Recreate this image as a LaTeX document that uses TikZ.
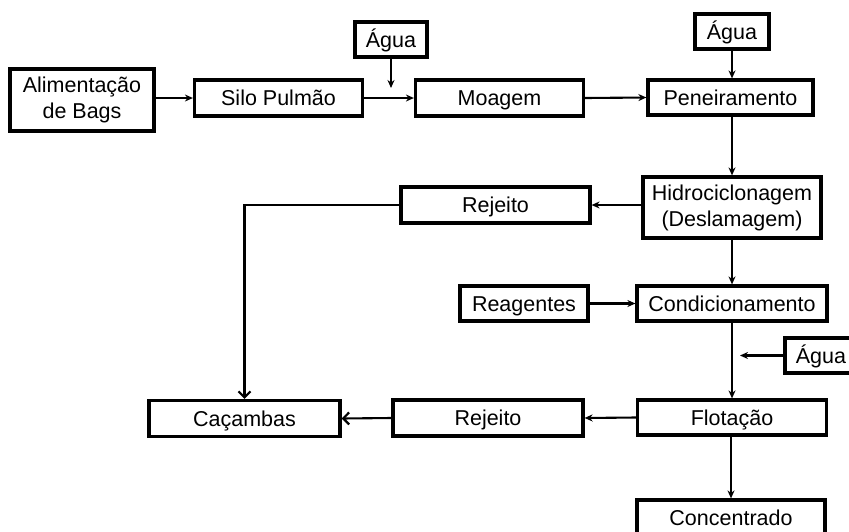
\documentclass[tikz,border=0pt]{standalone}
\usepackage{fontspec}
\setmainfont{Liberation Sans}
\usetikzlibrary{arrows.meta}

\begin{document}
\begin{tikzpicture}[x=1pt, y=-1pt,
            block/.style={rectangle, draw, line width=3.2pt, inner sep=0pt, align=center, font=\fontsize{21.5}{26}\selectfont},
            oneline/.style={block, text height=15pt, text depth=0pt},
            arrow/.style={line width=2.1pt, -{Stealth[length=8pt, width=7pt]}},
            barb/.style={line width=2.1pt, -{Straight Barb[length=6pt, width=12pt, line width=2.2pt]}}
        ]
            \useasboundingbox (0,0) rectangle (849,531);

            % Feed line
            \node[block, minimum width=144, minimum height=62] (alim) at (82,100) {Alimentação\\de Bags};
            \node[oneline, minimum width=168, minimum height=36] (silo) at (278.5,98) {Silo Pulmão};
            \node[oneline, minimum width=168, minimum height=36] (moagem) at (499.5,98) {Moagem};
            \node[oneline, minimum width=165, minimum height=35] (penei) at (730.5,97.5) {Peneiramento};

            % Water inputs
            \node[oneline, minimum width=72, minimum height=35] (agua1) at (391,39.5) {Água};
            \node[oneline, minimum width=74, minimum height=35] (agua2) at (732,31.5) {Água};
            \node[oneline, minimum width=72, minimum height=35] (agua3) at (821,355.5) {Água};
            \coordinate (agua1_end) at (391,88);
            \coordinate (agua3_end) at (740,355.5);

            % Desliming and flotation
            \node[block, minimum width=178, minimum height=61] (hidro) at (732,207.5) {Hidrociclonagem\\(Deslamagem)};
            \node[oneline, minimum width=189, minimum height=36] (rej1) at (495.5,205) {Rejeito};
            \node[oneline, minimum width=128, minimum height=35] (reag) at (524,303.5) {Reagentes};
            \node[oneline, minimum width=190, minimum height=35] (cond) at (732,303.5) {Condicionamento};
            \node[oneline, minimum width=189, minimum height=35] (flot) at (732,417.5) {Flotação};
            \node[oneline, minimum width=190, minimum height=36] (rej2) at (488,418) {Rejeito};
            \node[oneline, minimum width=191, minimum height=36] (cacambas) at (244.5,418.5) {Caçambas};
            \node[oneline, minimum width=188, minimum height=36] (conc) at (731,518) {Concentrado};

            % Arrows
            \draw[arrow] (alim.east |- silo) -- (silo.west);
            \draw[arrow] (silo.east) -- (moagem.west);
            \draw[arrow] (agua1.south) -- (agua1_end);
            \draw[arrow] (moagem.east) -- (penei.west);
            \draw[arrow] (agua2.south) -- (agua2.south |- penei.north);
            \draw[arrow] (penei.south -| hidro) -- (hidro.north);
            \draw[arrow] (hidro.west |- rej1) -- (rej1.east);
            \draw[barb] (rej1.west) -| (cacambas.north);
            \draw[arrow] (hidro.south) -- (cond.north);
            \draw[arrow] (reag.east) -- (cond.west);
            \draw[arrow] (agua3.west) -- (agua3_end);
            \draw[arrow] (cond.south) -- (flot.north);
            \draw[arrow] (flot.west) -- (rej2.east);
            \draw[barb] (rej2.west) -- (cacambas.east);
            \draw[arrow] (flot.south -| conc) -- (conc.north);
        \end{tikzpicture}
\end{document}
